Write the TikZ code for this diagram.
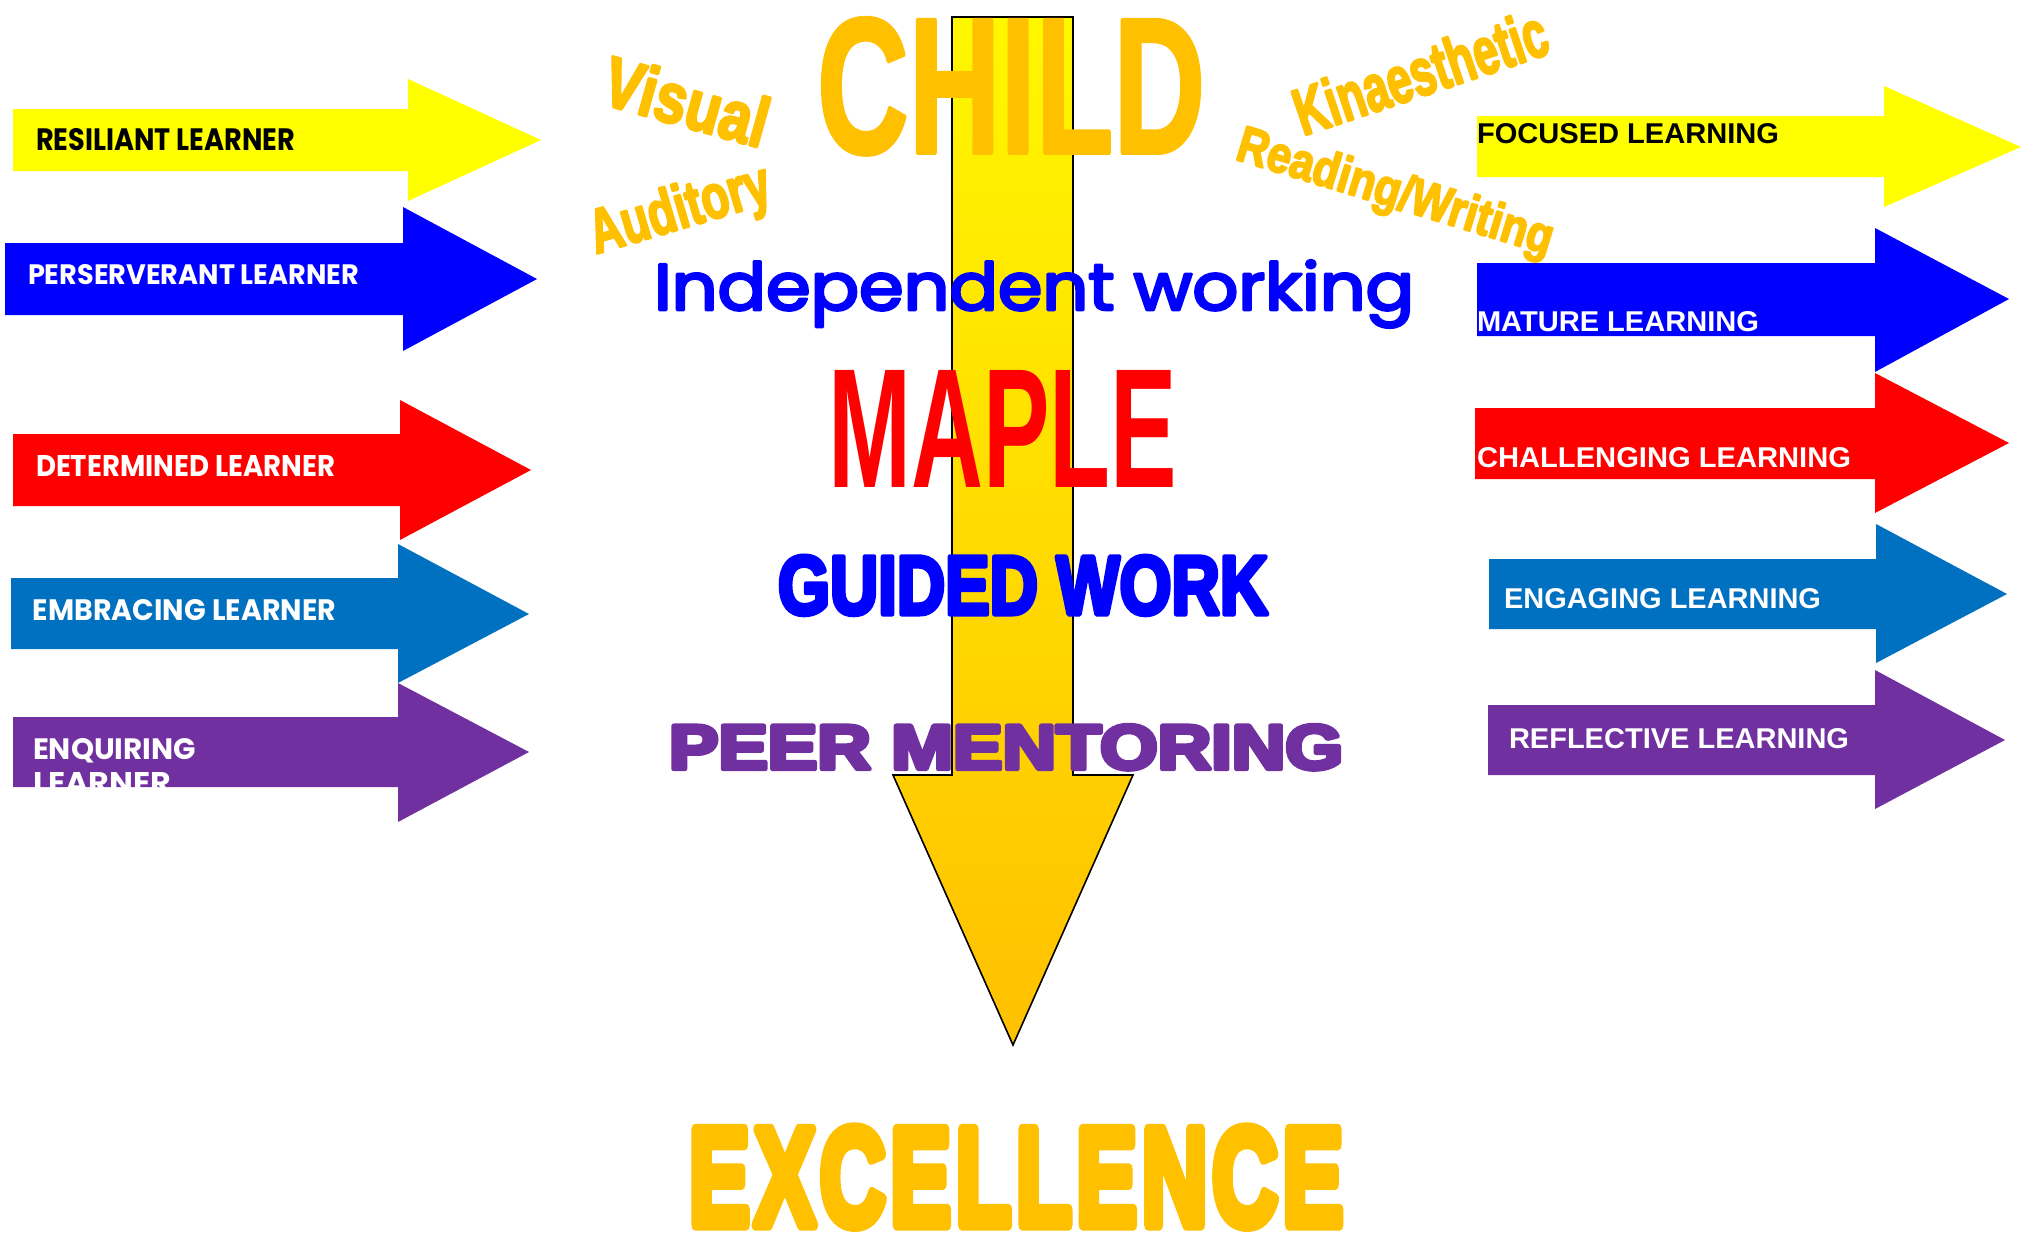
\documentclass[tikz,border=0pt]{standalone}
\usepackage{fontspec}
\usepackage{graphicx}
\setmainfont{Liberation Sans}
\newfontfamily\ab{Liberation Sans}
\newfontfamily\abM{Liberation Sans}[BoldFeatures={FakeBold=2}]
\newfontfamily\abK{Liberation Sans}[BoldFeatures={FakeBold=4}]
\newfontfamily\abP{Liberation Sans}[BoldFeatures={FakeBold=7}]
\newfontfamily\abH{Liberation Sans}[BoldFeatures={FakeBold=6}]
\newfontfamily\abX{Liberation Sans}[BoldFeatures={FakeBold=8,LetterSpace=5}]
\newfontfamily\pop{Poppins}
\newfontfamily\popF{Poppins}[UprightFeatures={FakeBold=4}]
\definecolor{cyel}{HTML}{FFFF00}
\definecolor{cblu}{HTML}{0000FF}
\definecolor{cred}{HTML}{FF0000}
\definecolor{cbl2}{HTML}{0070C0}
\definecolor{cpur}{HTML}{7030A0}
\definecolor{corg}{HTML}{FFC000}
\definecolor{ctop}{HTML}{FFF700}
\newcommand\fitbox[3]{\resizebox{#1pt}{#2pt}{#3}}
\newcommand\rarr[9]{\fill[#1] (#2,#3) -- (#5,#3) -- (#5,#6) -- (#8,#9) -- (#5,#7) -- (#5,#4) -- (#2,#4) -- cycle;}
\begin{document}
\begin{tikzpicture}[x=1pt,y=-1pt,
  lbl/.style={inner sep=0pt, outer sep=0pt, anchor=base west}]
\useasboundingbox (0,0) rectangle (2022,1239);
\fill[white] (0,0) rectangle (2022,1239);
% left arrows
\rarr{cyel}{13}{109}{171}{408}{79}{201}{541}{140}
\rarr{cblu}{5}{243}{315}{403}{207}{351}{537}{279}
\rarr{cred}{13}{434}{506}{400}{400}{540}{531}{470}
\rarr{cbl2}{11}{578}{649}{398}{544}{683}{529}{614}
\rarr{cpur}{13}{717}{787}{398}{683}{822}{529}{752}
% right arrows
\rarr{cyel}{1477}{116}{177}{1884}{86}{207}{2021}{147}
\rarr{cblu}{1477}{263}{336}{1875}{228}{372}{2009}{299}
\rarr{cred}{1475}{408}{479}{1875}{373}{513}{2009}{443}
\rarr{cbl2}{1489}{559}{629}{1876}{524}{663}{2007}{594}
\rarr{cpur}{1488}{705}{775}{1875}{670}{809}{2005}{740}
% central arrow
\path[draw=black, line width=1.6pt, top color=ctop, bottom color=corg]
  (952,17) -- (1073,17) -- (1073,775) -- (1133,775) -- (1013,1045) -- (893,775) -- (952,775) -- cycle;
\begin{scope}[line join=round]
% left texts
\node[lbl, text=black] (resil) at (36,150) {\fitbox{259}{22}{\pop\bfseries RESILIANT LEARNER}};
\node[lbl, text=white] (perse) at (28,284) {\fitbox{331}{20}{\pop\bfseries PERSERVERANT LEARNER}};
\node[lbl, text=white] (deter) at (36,476) {\fitbox{299}{21}{\pop\bfseries DETERMINED LEARNER}};
\node[lbl, text=white] (embra) at (33,620) {\fitbox{303}{21}{\pop\bfseries EMBRACING LEARNER}};
\begin{scope}
\clip (13,717) rectangle (398,787);
\node[lbl, text=white] (enq1) at (33,759) {\fitbox{163}{21}{\pop\bfseries ENQUIRING}};
\node[lbl, text=white] (enq2) at (33,793) {\fitbox{138}{21}{\pop\bfseries LEARNER}};
\end{scope}
% right texts
\node[lbl, text=black] (focus) at (1477,143) {\fitbox{302}{20}{\ab\bfseries FOCUSED LEARNING}};
\node[lbl, text=white] (matur) at (1477,331) {\fitbox{282}{20}{\ab\bfseries MATURE LEARNING}};
\node[lbl, text=white] (chall) at (1477,467) {\fitbox{374}{20}{\ab\bfseries CHALLENGING LEARNING}};
\node[lbl, text=white] (engag) at (1504,608) {\fitbox{317}{20}{\ab\bfseries ENGAGING LEARNING}};
\node[lbl, text=white] (refle) at (1509,748) {\fitbox{340}{20}{\ab\bfseries REFLECTIVE LEARNING}};
% centre texts
\node[lbl, text=corg] (child) at (817,153) {\fitbox{388}{135}{\abM\bfseries CHILD}};
\node[lbl, text=corg, rotate=-15.6] (visual) at (599,103) {\fitbox{168}{51}{\abK\bfseries Visual}};
\node[lbl, text=corg, rotate=16.5] (audit) at (596,254) {\fitbox{186}{45}{\abK\bfseries Auditory}};
\node[lbl, text=corg, rotate=18.5] (kina) at (1303,136) {\fitbox{263}{48}{\abK\bfseries Kinaesthetic}};
\node[lbl, text=corg, rotate=-17] (readw) at (1234,159) {\fitbox{328}{37}{\abK\bfseries Reading/Writing}};
\node[lbl, text=cblu] (indep) at (654,310) {\fitbox{760}{50}{\popF Independent working}};
\node[lbl, text=cred] (maple) at (828,487) {\fitbox{349}{117}{\ab\bfseries MAPLE}};
\node[lbl, text=cblu] (guided) at (778,614) {\fitbox{490}{58}{\abH\bfseries GUIDED WORK}};
\node[lbl, text=cpur] (peer) at (669,769) {\fitbox{674}{44}{\abP\bfseries PEER MENTORING}};
\node[lbl, text=corg] (excel) at (689,1225) {\fitbox{654}{97}{\abX\bfseries EXCELLENCE}};
\end{scope}
\end{tikzpicture}
\end{document}
